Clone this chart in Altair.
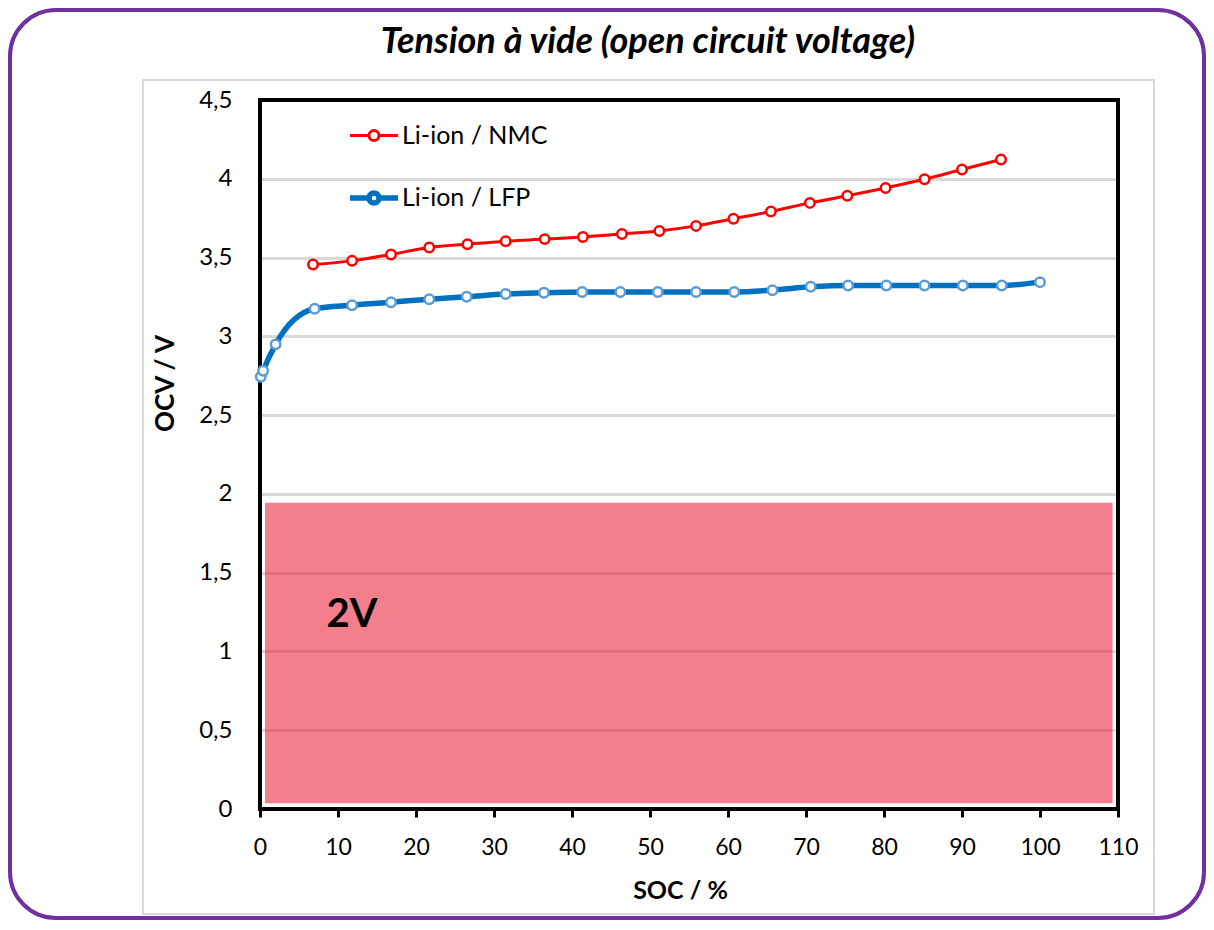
import altair as alt
import pandas as pd

# ---------------- data ----------------
NMC_NAME = "Li-ion / NMC"
LFP_NAME = "Li-ion / LFP"

nmc_soc = [6.8, 11.8, 16.8, 21.7, 26.6, 31.5, 36.5, 41.4, 46.4, 51.2, 55.9,
           60.7, 65.5, 70.5, 75.3, 80.2, 85.2, 90.0, 95.0]
nmc_ocv = [3.456, 3.479, 3.520, 3.564, 3.585, 3.604, 3.617, 3.631, 3.650, 3.669,
           3.701, 3.746, 3.792, 3.847, 3.892, 3.942, 3.997, 4.059, 4.122]

lfp_soc = [0.1, 0.4, 2.0, 7.0, 11.8, 16.8, 21.7, 26.5, 31.5, 36.4, 41.3, 46.2,
           51.0, 55.9, 60.8, 65.7, 70.6, 75.4, 80.3, 85.2, 90.1, 95.1, 100.0]
lfp_ocv = [2.743, 2.781, 2.949, 3.175, 3.198, 3.217, 3.236, 3.251, 3.268, 3.276,
           3.282, 3.282, 3.282, 3.282, 3.282, 3.293, 3.314, 3.323, 3.323, 3.323,
           3.323, 3.323, 3.344]

x_ticks = list(range(0, 111, 10))
y_ticks = [0, 0.5, 1, 1.5, 2, 2.5, 3, 3.5, 4, 4.5]

zone_soc = [0.64, 109.3]
zone_ocv = [0.036, 1.944]
zone_label = "2V"
zone_label_pos = [11.8, 1.23]

TITLE = "Tension à vide (open circuit voltage)"
X_TITLE = "SOC / %"
Y_TITLE = "OCV / V"

df = pd.DataFrame({
    "series": [NMC_NAME] * len(nmc_soc) + [LFP_NAME] * len(lfp_soc),
    "soc": nmc_soc + lfp_soc,
    "ocv": nmc_ocv + lfp_ocv,
})
one = pd.DataFrame({"a": [0]})

FONT = "Lato"
W, H = 858, 709

xscale = alt.Scale(domain=[0, 110], nice=False, zero=False)
yscale = alt.Scale(domain=[0, 4.5], nice=False, zero=False)

xaxis = alt.Axis(values=x_ticks, title=X_TITLE, grid=False, domain=False,
                 ticks=True, tickColor="black", tickWidth=3, tickSize=8,
                 labelFlush=False, labelOverlap=False,
                 labelFont=FONT, labelFontSize=23, labelColor="black",
                 labelPadding=19, titleFont=FONT, titleFontSize=25,
                 titleFontWeight="bold", titleColor="black",
                 titleX=420, titleY=81, titleBaseline="middle")
yaxis = alt.Axis(values=y_ticks, title=Y_TITLE, grid=True, gridColor="#D9D9D9",
                 gridWidth=3, domain=False, ticks=False,
                 labelFlush=False, labelOverlap=False,
                 labelExpr="replace(format(datum.value, '~g'), '.', ',')",
                 labelFont=FONT, labelFontSize=24, labelColor="black",
                 labelPadding=28, titleFont=FONT, titleFontSize=26,
                 titleFontWeight="bold", titleColor="black",
                 titleX=-95, titleY=283, titleAngle=270, titleBaseline="middle")

series_order = [NMC_NAME, LFP_NAME]
legend_path = ("M-1,0H-0.21M0.21,0H1M0.21,0A0.21,0.21,0,1,1,-0.21,0"
               "A0.21,0.21,0,1,1,0.21,0")

# decorative frames
purple = alt.Chart(one).mark_rect(
    fill="transparent", stroke="#7030A0", strokeWidth=4, cornerRadius=46
).encode(x=alt.value(-250), x2=alt.value(944), y=alt.value(-90), y2=alt.value(818))

inner = alt.Chart(one).mark_rect(
    fill="transparent", stroke="#D9D9D9", strokeWidth=2
).encode(x=alt.value(-117), x2=alt.value(894), y=alt.value(-20), y2=alt.value(814))

title_text = alt.Chart(one).mark_text(
    text=TITLE, font=FONT, fontSize=36, fontWeight="bold", fontStyle="italic",
    color="black", align="center", baseline="middle"
).encode(x=alt.value(388), y=alt.value(-58))

zone = alt.Chart(one).mark_rect(color="#E7162C", opacity=0.55).encode(
    x=alt.datum(zone_soc[0], scale=xscale, axis=xaxis),
    x2=alt.datum(zone_soc[1]),
    y=alt.datum(zone_ocv[0], scale=yscale, axis=yaxis),
    y2=alt.datum(zone_ocv[1]),
)

frame = alt.Chart(one).mark_rect(
    fill="transparent", stroke="black", strokeWidth=4
).encode(x=alt.value(0), x2=alt.value(W), y=alt.value(0), y2=alt.value(H))

zone_text = alt.Chart(one).mark_text(
    text=zone_label, font=FONT, fontSize=40, fontWeight="bold", color="black"
).encode(x=alt.datum(zone_label_pos[0]), y=alt.datum(zone_label_pos[1]))

lines = alt.Chart(df).mark_line(interpolate="monotone").encode(
    x=alt.X("soc:Q", scale=xscale, axis=xaxis),
    y=alt.Y("ocv:Q", scale=yscale, axis=yaxis),
    color=alt.Color("series:N", sort=series_order,
                    scale=alt.Scale(domain=series_order, range=["#FF0000", "#0070C0"]),
                    legend=alt.Legend(orient="none", legendX=87, legendY=10, title=None,
                                      symbolType=legend_path, symbolSize=2304,
                                      symbolStrokeWidth=3.5, symbolFillColor="transparent",
                                      labelFont=FONT, labelFontSize=25, labelColor="black",
                                      labelOffset=1, rowPadding=22)),
    strokeWidth=alt.StrokeWidth("series:N",
                                scale=alt.Scale(domain=series_order, range=[3, 5.5]),
                                legend=None),
)

points = alt.Chart(df).mark_point(shape="circle", filled=True, fill="white",
                                  size=90, strokeWidth=2.5, opacity=1).encode(
    x="soc:Q",
    y="ocv:Q",
    stroke=alt.Stroke("series:N",
                      scale=alt.Scale(domain=series_order, range=["#FF0000", "#5B9BD5"]),
                      legend=None),
)

chart = alt.layer(purple, inner, title_text, zone, frame, lines, points, zone_text).properties(
    width=W, height=H,
    background="white",
    autosize=alt.AutoSizeParams(type="none"),
    padding={"left": 252, "top": 92, "right": 88, "bottom": 113},
).configure_view(strokeWidth=0)

chart.save("out.html", embed_options={"renderer": "svg", "actions": False})
